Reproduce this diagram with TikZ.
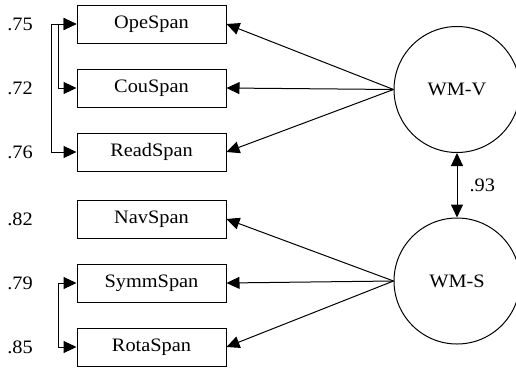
\documentclass[tikz,border=0pt]{standalone}
\usepackage{fontspec}
\setmainfont{Liberation Serif}[FakeStretch=1.07]
\usetikzlibrary{arrows.meta}
\begin{document}
\begin{tikzpicture}[x=1pt,y=-1pt,
  font=\fontsize{19}{22}\selectfont,
  obs/.style={draw, line width=1pt, minimum width=149pt, minimum height=38pt, inner sep=0pt},
  lat/.style={draw, line width=1pt, circle, minimum size=126pt, inner sep=0pt},
  conn/.style={line width=1pt, -{Triangle[length=13pt,width=12pt]}},
  bconn/.style={line width=1pt, {Triangle[length=13pt,width=12pt]}-{Triangle[length=13pt,width=12pt]}},
  val/.style={inner sep=0pt}]
\useasboundingbox (0,0) rectangle (516,367);
\node[obs] (ope) at (151.5,24) {OpeSpan};
\node[obs] (cou) at (151.5,88) {CouSpan};
\node[obs] (read) at (151.5,152) {ReadSpan};
\node[obs] (nav) at (151.5,219) {NavSpan};
\node[obs] (symm) at (151.5,283) {SymmSpan};
\node[obs] (rota) at (151.5,347) {RotaSpan};
\node[val] (l1) at (20,24) {.75};
\node[val] (l2) at (20,88) {.72};
\node[val] (l3) at (20,152) {.76};
\node[val] (l4) at (20,219) {.82};
\node[val] (l5) at (20,283) {.79};
\node[val] (l6) at (20,347) {.85};
\node[lat] (wmv) at (457,89.5) {WM-V};
\node[lat] (wms) at (457,281) {WM-S};
\draw[conn] (wmv.west) -- (ope.east);
\draw[conn] (wmv.west) -- (cou.east);
\draw[conn] (wmv.west) -- (read.east);
\draw[conn] (wms.west) -- (nav.east);
\draw[conn] (wms.west) -- (symm.east);
\draw[conn] (wms.west) -- (rota.east);
\draw[bconn] (ope.west) -- ++(-25,0) |- (read.west);
\draw[bconn] (ope.west) -- ++(-18,0) |- (cou.west);
\draw[bconn] (symm.west) -- ++(-18,0) |- (rota.west);
\draw[bconn] (wmv.south) -- (wms.north) node[midway, right=12pt, inner sep=0pt] (r) {.93};
\end{tikzpicture}
\end{document}
